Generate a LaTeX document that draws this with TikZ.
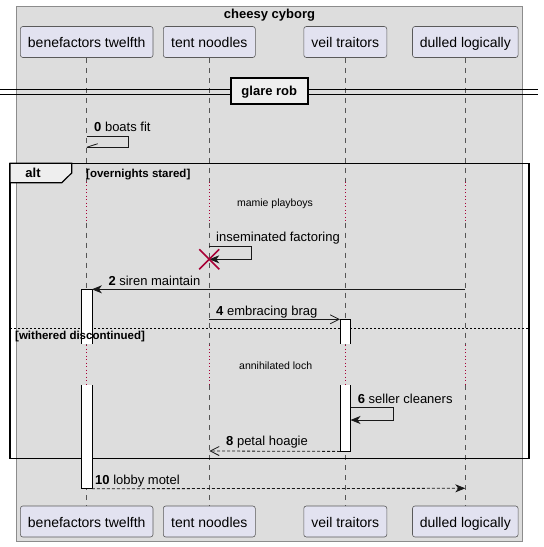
\documentclass[tikz,border=0pt]{standalone}
\usepackage{fontspec}
\setmainfont{Liberation Sans}
\usetikzlibrary{arrows.meta}
\definecolor{grayback}{HTML}{DDDDDD}
\definecolor{grayline}{HTML}{8C8C8C}
\definecolor{partfill}{HTML}{E2E2F0}
\definecolor{partline}{HTML}{5A5A5A}
\definecolor{tabfill}{HTML}{EEEEEE}
\definecolor{crim}{HTML}{A80036}
\definecolor{lifeline}{HTML}{555555}
\tikzset{
  part/.style={draw=partline, line width=0.6pt, fill=partfill, rounded corners=2.5pt,
    font=\fontsize{14}{16}\selectfont, text height=11pt, text depth=0pt, inner sep=0pt,
    minimum height=31pt},
  msglbl/.style={anchor=base west, inner sep=0pt, font=\fontsize{13}{15}\selectfont},
  delaylbl/.style={anchor=base, inner sep=0pt, font=\fontsize{10.5}{12}\selectfont},
  guardlbl/.style={anchor=base west, inner sep=0pt, font=\fontsize{11.5}{13}\selectfont\bfseries},
  lifedash/.style={draw=lifeline, line width=0.6pt, dash pattern=on 5pt off 5pt},
  lifedot/.style={draw=crim, line width=0.8pt, dash pattern=on 1pt off 2.5pt},
  actbar/.style={fill=white, minimum width=10pt, inner sep=0pt, anchor=north},
  baredge/.style={draw=black, line width=0.8pt},
  msgline/.style={draw=black!90, line width=0.8pt},
  filledtip/.style={-{Stealth[length=10pt,width=8pt,inset=3pt]}},
  opentip/.style={-{Straight Barb[length=9pt,width=9pt]}},
  retdash/.style={dash pattern=on 3pt off 2pt},
}
\begin{document}
\begin{tikzpicture}[x=1pt,y=-1pt]
\useasboundingbox (0,0) rectangle (544,547);
% group box
\draw[fill=grayback, draw=grayline, line width=1pt] (16,6.7) rectangle (522,541.7);
\node[anchor=base, inner sep=0pt, font=\fontsize{13}{15}\selectfont\bfseries] (title) at (269.5,18) {cheesy cyborg};
% participants
\node[part, minimum width=132.6pt] (bt) at (86.7,42) {benefactors twelfth};
\node[part, minimum width=92pt] (tn) at (209.3,42) {tent noodles};
\node[part, minimum width=83pt] (vt) at (345.3,42) {veil traitors};
\node[part, minimum width=105.6pt] (dl) at (465.3,42) {dulled logically};
\node[part, minimum width=132.6pt] (bt2) at (86.7,521.5) {benefactors twelfth};
\node[part, minimum width=92pt] (tn2) at (209.3,521.5) {tent noodles};
\node[part, minimum width=83pt] (vt2) at (345.3,521.5) {veil traitors};
\node[part, minimum width=105.6pt] (dl2) at (465.3,521.5) {dulled logically};
% lifelines
\foreach \p/\q in {bt/bt2, tn/tn2, vt/vt2, dl/dl2}{
  \draw[lifedash] (\p.south) -- (\p |- 0,181.7);
  \draw[lifedot] (\p |- 0,181.7) -- (\p |- 0,222.7);
  \draw[lifedash] (\p |- 0,222.7) -- (\p |- 0,345);
  \draw[lifedot] (\p |- 0,345) -- (\p |- 0,385);
  \draw[lifedash] (\p |- 0,385) -- (\q.north);
}
% divider
\draw[line width=1pt] (0,89.5) -- (538,89.5);
\draw[line width=1pt] (0,94) -- (538,94);
\node[draw=black, line width=2pt, fill=tabfill, minimum width=76.7pt, minimum height=26.6pt,
  inner sep=0pt, font=\fontsize{13}{15}\selectfont\bfseries, text height=9.5pt, text depth=0pt] (div) at (269.3,91) {glare rob};
% alt frame
\draw[line width=1.5pt] (10,163.3) rectangle (529,458.3);
\draw[line width=1.2pt, fill=tabfill] (10,163.3) -- (71.7,163.3) -- (71.7,173) -- (61.7,182.7) -- (10,182.7) -- cycle;
\node[anchor=base, inner sep=0pt, font=\fontsize{13}{15}\selectfont\bfseries] (alt) at (33,177.5) {alt};
\node[guardlbl] (g1) at (86,177) {[overnights stared]};
\draw[line width=1pt, dash pattern=on 2pt off 2pt] (10,328.3) -- (529,328.3);
% activation bars (open where the delay breaks them)
\node[actbar, minimum height=54pt] (a1) at (bt |- 0,289.3) {};
\node[actbar, minimum height=103.3pt] (a2) at (bt |- 0,385) {};
\node[actbar, minimum height=24pt] (v1) at (vt |- 0,319.3) {};
\node[actbar, minimum height=66pt] (v2) at (vt |- 0,385) {};
\foreach \b in {a1, v1}{
  \draw[baredge] (\b.south west) -- (\b.north west) -- (\b.north east) -- (\b.south east);
}
\foreach \b in {a2, v2}{
  \draw[baredge] (\b.north west) -- (\b.south west) -- (\b.south east) -- (\b.north east);
}
\node[guardlbl] (g2) at (15,339.5) {[withered discontinued]};
% delays
\node[delaylbl] (d1) at (275,206) {mamie playboys};
\node[delaylbl] (d2) at (275.7,369) {annihilated loch};
% message 0
\draw[msgline] (bt |- 0,136) -- (128.3,136) |- (bt |- 0,147.3);
\draw[msgline] (bt |- 0,147.3) -- ++(11,-3.6);
\node[msglbl] (l0) at (94,131.5) {\textbf{0} boats fit};
% inseminated factoring
\draw[msgline, filledtip] (tn |- 0,246.7) -- (251.7,246.7) |- (tn |- 0,259.3);
\node[msglbl] (l1) at (216,241.5) {inseminated factoring};
\draw[crim, line width=1.6pt] (tn |- 0,259.3) +(-10,-10) -- +(10,10) +(-10,10) -- +(10,-10);
% siren maintain
\draw[msgline, filledtip] (dl |- 0,289.3) -- (a1.north east);
\node[msglbl] (l2) at (108.3,285) {\textbf{2} siren maintain};
% embracing brag
\draw[msgline, opentip] (tn |- 0,319.3) -- (v1.north west);
\node[msglbl] (l4) at (216,315) {\textbf{4} embracing brag};
% seller cleaners
\draw[msgline, filledtip] (v2.east |- 0,407.3) -- (393.3,407.3) |- (v2.east |- 0,420);
\node[msglbl] (l6) at (357.7,403) {\textbf{6} seller cleaners};
% petal hoagie
\draw[msgline, retdash, opentip] (v2.south west) -- (tn |- 0,451);
\node[msglbl] (l8) at (226,445.5) {\textbf{8} petal hoagie};
% lobby motel
\draw[msgline, retdash, filledtip] (a2.south east) -- (dl |- 0,488.3);
\node[msglbl] (l10) at (95,484) {\textbf{10} lobby motel};
\end{tikzpicture}
\end{document}
